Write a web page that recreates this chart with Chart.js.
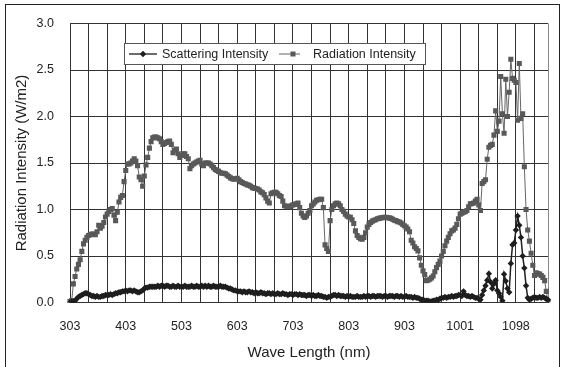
<!DOCTYPE html>
<html>
<head>
<meta charset="utf-8">
<script src="https://cdn.jsdelivr.net/npm/chart.js@4.4.1/dist/chart.umd.min.js"></script>
<style>
  html, body { margin: 0; padding: 0; background: #fff; }
  #wrap { position: relative; width: 565px; height: 367px; overflow: hidden; }
  #frame { position: absolute; left: 5px; top: 4px; width: 555px; height: 380px;
           border: 1px solid #222; box-sizing: border-box; pointer-events: none; }
  canvas { position: absolute; left: 0; top: 0; }
</style>
</head>
<body>
<div id="wrap">
  <canvas id="chart" width="565" height="367"></canvas>
  <div id="frame"></div>
</div>
<script>
// Wavelength labels shown under every third grid line
const tickLabels = ['303', '403', '503', '603', '703', '803', '903', '1001', '1098'];
const samplesPerLabel = 33;   // spectrometer samples between two labelled wavelengths
const samplesPerGrid = 11;    // samples between two vertical grid lines

// Scattering intensity (W/m2), one value per sample
const scattering = [
  0.00,0.01,0.00,0.02,0.04,0.06,0.07,0.08,0.09,0.10,
  0.10,0.09,0.08,0.07,0.07,0.06,0.07,0.06,0.06,0.07,
  0.07,0.08,0.08,0.08,0.09,0.08,0.09,0.10,0.10,0.11,
  0.11,0.12,0.12,0.13,0.12,0.13,0.13,0.12,0.13,0.12,
  0.11,0.11,0.12,0.13,0.15,0.16,0.16,0.17,0.17,0.17,
  0.17,0.17,0.18,0.17,0.18,0.18,0.17,0.18,0.18,0.17,
  0.17,0.18,0.17,0.17,0.18,0.17,0.17,0.17,0.18,0.17,
  0.17,0.17,0.18,0.17,0.17,0.18,0.17,0.17,0.18,0.17,
  0.18,0.17,0.18,0.17,0.17,0.18,0.17,0.17,0.17,0.18,
  0.17,0.17,0.17,0.16,0.15,0.15,0.14,0.13,0.13,0.12,
  0.12,0.12,0.11,0.12,0.11,0.11,0.12,0.11,0.11,0.10,
  0.11,0.10,0.10,0.11,0.10,0.10,0.09,0.10,0.10,0.09,
  0.10,0.09,0.09,0.10,0.09,0.09,0.10,0.09,0.09,0.08,
  0.09,0.09,0.08,0.09,0.09,0.08,0.09,0.08,0.08,0.08,
  0.07,0.08,0.08,0.07,0.08,0.07,0.07,0.08,0.07,0.07,
  0.06,0.06,0.05,0.06,0.06,0.07,0.08,0.08,0.07,0.08,
  0.07,0.07,0.07,0.06,0.07,0.06,0.07,0.06,0.06,0.06,
  0.07,0.06,0.06,0.06,0.07,0.06,0.07,0.07,0.06,0.07,
  0.07,0.06,0.07,0.07,0.07,0.06,0.07,0.07,0.06,0.07,
  0.07,0.07,0.06,0.07,0.07,0.06,0.07,0.06,0.06,0.07,
  0.06,0.06,0.06,0.05,0.06,0.05,0.05,0.04,0.03,0.03,
  0.02,0.02,0.02,0.01,0.01,0.02,0.02,0.03,0.03,0.04,
  0.05,0.05,0.06,0.05,0.06,0.06,0.07,0.06,0.07,0.07,
  0.08,0.08,0.07,0.12,0.08,0.07,0.07,0.06,0.07,0.06,
  0.05,0.05,0.04,0.03,0.08,0.13,0.18,0.24,0.31,0.22,
  0.15,0.20,0.24,0.13,0.10,0.06,0.02,0.305,0.23,0.15,
  0.11,0.42,0.62,0.64,0.78,0.93,0.83,0.70,0.50,0.37,
  0.18,0.05,0.03,0.04,0.05,0.06,0.05,0.05,0.06,0.05,
  0.06,0.05,0.04,0.03
];

// Radiation intensity (W/m2), one value per sample
const radiation = [
  0.01,0.02,0.20,0.28,0.36,0.41,0.46,0.55,0.63,0.67,
  0.70,0.72,0.73,0.735,0.735,0.73,0.76,0.83,0.80,0.82,
  0.86,0.92,0.95,0.98,1.00,1.01,0.94,0.88,0.97,1.08,
  1.13,1.15,1.30,1.42,1.49,1.49,1.50,1.52,1.545,1.52,
  1.47,1.35,1.32,1.25,1.36,1.48,1.56,1.66,1.73,1.77,
  1.78,1.78,1.77,1.76,1.73,1.70,1.71,1.72,1.73,1.735,
  1.70,1.61,1.64,1.65,1.60,1.56,1.58,1.60,1.60,1.57,
  1.545,1.44,1.47,1.49,1.50,1.51,1.52,1.53,1.49,1.47,
  1.50,1.50,1.50,1.49,1.47,1.45,1.43,1.42,1.41,1.395,
  1.39,1.39,1.385,1.37,1.355,1.34,1.33,1.325,1.33,1.335,
  1.32,1.30,1.29,1.28,1.275,1.265,1.26,1.25,1.235,1.23,
  1.225,1.22,1.21,1.19,1.18,1.16,1.125,1.09,1.07,1.17,
  1.18,1.185,1.185,1.17,1.15,1.14,1.09,1.04,1.035,1.035,
  1.03,1.04,1.05,1.055,1.06,1.07,1.02,0.96,0.93,0.915,
  0.93,0.96,0.99,1.04,1.06,1.08,1.10,1.105,1.11,1.11,
  1.02,0.62,0.58,0.55,0.88,1.00,1.04,1.06,1.07,1.06,
  1.04,1.00,0.98,0.95,0.93,0.92,0.915,0.89,0.85,0.77,
  0.72,0.70,0.685,0.68,0.70,0.75,0.81,0.84,0.86,0.875,
  0.885,0.89,0.90,0.905,0.91,0.912,0.915,0.915,0.912,0.91,
  0.905,0.895,0.885,0.88,0.87,0.865,0.855,0.84,0.825,0.81,
  0.79,0.76,0.67,0.64,0.60,0.58,0.555,0.48,0.40,0.34,
  0.30,0.235,0.24,0.25,0.265,0.285,0.33,0.375,0.41,0.445,
  0.50,0.55,0.61,0.66,0.70,0.74,0.77,0.78,0.80,0.84,
  0.90,0.95,0.96,0.97,0.975,0.99,1.03,1.06,1.065,1.07,
  1.09,1.11,1.05,0.99,1.28,1.30,1.32,1.54,1.67,1.69,
  1.70,1.80,2.06,1.84,1.95,2.43,2.03,1.82,2.40,2.00,
  2.26,2.615,2.41,2.39,2.365,1.96,2.57,1.98,2.03,1.46,
  1.00,0.78,0.66,0.53,0.40,0.29,0.32,0.31,0.305,0.29,
  0.27,0.235,0.12,0.01
];

// One category per sample; only every 33rd carries a wavelength label
const categories = radiation.map((_, i) =>
  i % samplesPerLabel === 0 && tickLabels[i / samplesPerLabel] ? tickLabels[i / samplesPerLabel] : '');

const FONT = "'Liberation Sans', Arial, sans-serif";
const TEXT = '#222';
const GRID = '#333';
const SCATTER_COLOR = '#1e1e1e';
const RADIATION_COLOR = '#595959';

// Legend box drawn inside the plot area
const innerLegend = {
  id: 'innerLegend',
  afterDraw(chart) {
    const ctx = chart.ctx;
    ctx.save();
    ctx.fillStyle = '#fff';
    ctx.strokeStyle = '#555';
    ctx.lineWidth = 1;
    ctx.fillRect(124.5, 43.5, 301, 21);
    ctx.strokeRect(124.5, 43.5, 301, 21);
    const cy = 54;
    // scattering sample
    ctx.strokeStyle = SCATTER_COLOR;
    ctx.lineWidth = 1.3;
    ctx.beginPath(); ctx.moveTo(129, cy); ctx.lineTo(157, cy); ctx.stroke();
    ctx.fillStyle = SCATTER_COLOR;
    ctx.beginPath();
    ctx.moveTo(143, cy - 3.2); ctx.lineTo(146.2, cy); ctx.lineTo(143, cy + 3.2); ctx.lineTo(139.8, cy);
    ctx.closePath(); ctx.fill();
    // radiation sample
    ctx.strokeStyle = '#666';
    ctx.lineWidth = 1;
    ctx.beginPath(); ctx.moveTo(279, cy); ctx.lineTo(300, cy); ctx.stroke();
    ctx.fillStyle = RADIATION_COLOR;
    ctx.fillRect(290.5, cy - 2.5, 5, 5);
    // labels
    ctx.fillStyle = TEXT;
    ctx.font = "12.5px " + FONT;
    ctx.textBaseline = 'middle';
    ctx.textAlign = 'left';
    ctx.fillText('Scattering Intensity', 162, cy + 0.5);
    ctx.fillText('Radiation Intensity', 313, cy + 0.5);
    ctx.restore();
  }
};

new Chart(document.getElementById('chart'), {
  type: 'line',
  data: {
    labels: categories,
    datasets: [
      {
        label: 'Scattering Intensity',
        data: scattering,
        borderColor: SCATTER_COLOR,
        backgroundColor: SCATTER_COLOR,
        borderWidth: 1.5,
        pointStyle: 'rectRot',
        pointRadius: 3.2,
        pointBorderWidth: 0,
        tension: 0
      },
      {
        label: 'Radiation Intensity',
        data: radiation,
        borderColor: '#666',
        backgroundColor: RADIATION_COLOR,
        borderWidth: 1,
        pointStyle: 'rect',
        pointRadius: 3.6,
        pointBorderWidth: 0,
        tension: 0
      }
    ]
  },
  options: {
    responsive: false,
    animation: false,
    devicePixelRatio: 1,
    layout: { padding: { left: 0, top: 16, right: 15, bottom: 0 } },
    plugins: { legend: { display: false }, tooltip: { enabled: false } },
    scales: {
      x: {
        type: 'category',
        offset: false,
        afterFit(scale) { scale.height = 64.5; },
        ticks: {
          autoSkip: false,
          maxRotation: 0,
          minRotation: 0,
          padding: 17,
          color: TEXT,
          font: { family: FONT, size: 12.5 }
        },
        grid: {
          drawTicks: false,
          color(ctx) {
            if (ctx.index % samplesPerGrid === 0) return GRID;
            if (ctx.index === radiation.length - 1) return '#888';
            return 'rgba(0,0,0,0)';
          },
          lineWidth: 1
        },
        border: { color: GRID, width: 1 },
        title: {
          display: true,
          text: 'Wave Length (nm)',
          color: TEXT,
          font: { family: FONT, size: 15 },
          padding: { top: 0, bottom: 5.5 }
        }
      },
      y: {
        min: 0,
        max: 3,
        afterFit(scale) { scale.width = 70; },
        ticks: {
          stepSize: 0.5,
          padding: 16,
          color: TEXT,
          font: { family: FONT, size: 12.5 },
          callback: v => Number(v).toFixed(1)
        },
        grid: { drawTicks: false, color: GRID, lineWidth: 1 },
        border: { color: GRID, width: 1 },
        title: {
          display: true,
          text: 'Radiation Intensity (W/m2)',
          color: TEXT,
          font: { family: FONT, size: 15 },
          padding: { top: 13, bottom: 0 }
        }
      }
    }
  },
  plugins: [innerLegend]
});
</script>
</body>
</html>
